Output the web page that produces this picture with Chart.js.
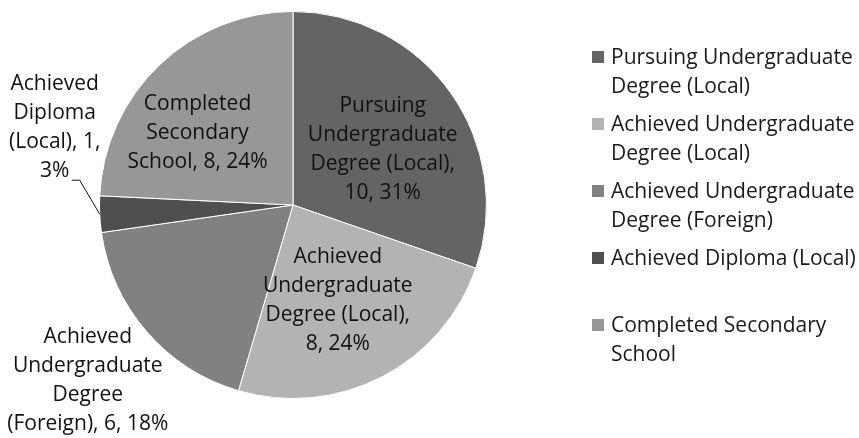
<!DOCTYPE html>
<html>
<head>
<meta charset="utf-8">
<script src="https://cdn.jsdelivr.net/npm/chart.js@4.4.1/dist/chart.umd.min.js"></script>
<style>
  body { margin: 0; background: #fff; }
  #wrap { position: relative; width: 859px; height: 438px; }
  #legend { position: absolute; left: 592px; top: 42px; font: 21px "Open Sans", sans-serif; color: #1a1a1a; white-space: nowrap; }
  .item { position: relative; height: 67px; padding-left: 19px; line-height: 29px; }
  .box { position: absolute; left: 0; top: 9px; width: 12px; height: 12px; }
</style>
</head>
<body>
<div id="wrap">
  <canvas id="pie" width="859" height="438"></canvas>
  <div id="legend"></div>
</div>
<script>
const categories = [
  'Pursuing Undergraduate Degree (Local)',
  'Achieved Undergraduate Degree (Local)',
  'Achieved Undergraduate Degree (Foreign)',
  'Achieved Diploma (Local)',
  'Completed Secondary School'
]
const counts = [10, 8, 6, 1, 8]
const percents = ['31%', '24%', '18%', '3%', '24%']

// wrapped text as it appears on the chart
const legendLines = [
  ['Pursuing Undergraduate', 'Degree (Local)'],
  ['Achieved Undergraduate', 'Degree (Local)'],
  ['Achieved Undergraduate', 'Degree (Foreign)'],
  ['Achieved Diploma (Local)'],
  ['Completed Secondary', 'School']
]
const labelLines = [
  ['Pursuing', 'Undergraduate', 'Degree (Local),', counts[0] + ', ' + percents[0]],
  ['Achieved', 'Undergraduate', 'Degree (Local),', counts[1] + ', ' + percents[1]],
  ['Achieved', 'Undergraduate', 'Degree', '(Foreign), ' + counts[2] + ', ' + percents[2]],
  ['Achieved', 'Diploma', '(Local), ' + counts[3] + ',', percents[3]],
  ['Completed', 'Secondary', 'School, ' + counts[4] + ', ' + percents[4]]
]

const colors = ['#646464', '#b3b3b3', '#818181', '#4f4f4f', '#979797']

// where each label sits: fraction of radius along the slice middle, then a nudge
const labelPlace = [
  { r: 0.55, dx: 3, dy: 6 },
  { r: 0.55, dx: -4, dy: 1 },
  { r: 1.0, dx: -59, dy: 49 },
  { r: 1.0, dx: -45, dy: -87, leader: true },
  { r: 0.55, dx: -22, dy: 5 }
]

const sliceLabels = {
  id: 'sliceLabels',
  afterDatasetsDraw(chart) {
    const ctx = chart.ctx
    const meta = chart.getDatasetMeta(0)
    ctx.save()
    ctx.font = '21px "Open Sans", sans-serif'
    ctx.fillStyle = '#111'
    ctx.textAlign = 'center'
    ctx.textBaseline = 'middle'
    meta.data.forEach((arc, i) => {
      const { x, y, startAngle, endAngle, outerRadius } = arc.getProps(['x', 'y', 'startAngle', 'endAngle', 'outerRadius'], true)
      const mid = (startAngle + endAngle) / 2
      const p = labelPlace[i]
      const lx = x + Math.cos(mid) * outerRadius * p.r + p.dx
      const ly = y + Math.sin(mid) * outerRadius * p.r + p.dy
      const lines = labelLines[i]
      const lh = 29
      lines.forEach((t, k) => {
        ctx.fillText(t, lx, ly + (k - (lines.length - 1) / 2) * lh)
      })
      if (p.leader) {
        ctx.strokeStyle = '#111'
        ctx.lineWidth = 1
        ctx.beginPath()
        ctx.moveTo(x + Math.cos(mid) * outerRadius, y + Math.sin(mid) * outerRadius)
        ctx.lineTo(lx + 25, ly + 53)
        ctx.lineTo(lx + 17, ly + 53)
        ctx.stroke()
      }
    })
    ctx.restore()
  }
}

new Chart(document.getElementById('pie'), {
  type: 'pie',
  data: {
    labels: categories,
    datasets: [{
      data: counts,
      backgroundColor: colors,
      borderColor: '#ffffff',
      borderWidth: 1
    }]
  },
  options: {
    responsive: false,
    animation: false,
    devicePixelRatio: 1,
    layout: { padding: { left: 99, right: 372, top: 11, bottom: 39 } },
    plugins: {
      legend: { display: false },
      tooltip: { enabled: false }
    }
  },
  plugins: [sliceLabels]
})

const legend = document.getElementById('legend')
legendLines.forEach((lines, i) => {
  const item = document.createElement('div')
  item.className = 'item'
  const box = document.createElement('span')
  box.className = 'box'
  box.style.background = colors[i]
  item.appendChild(box)
  lines.forEach(t => {
    const d = document.createElement('div')
    d.textContent = t
    item.appendChild(d)
  })
  legend.appendChild(item)
})
</script>
</body>
</html>
